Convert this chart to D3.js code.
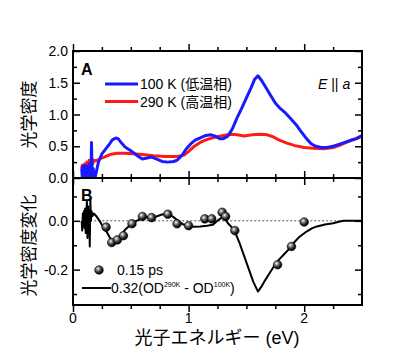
<!DOCTYPE html>
<html><head><meta charset="utf-8">
<script src="https://cdn.jsdelivr.net/npm/d3@7"></script>
<style>body{margin:0;background:#fff}svg{display:block}text{font-family:"Liberation Sans",Arial,sans-serif;fill:#000}</style>
</head><body>
<script>
// Top panel: optical density (energy eV, OD)
const blue100K = [[0.075,0.15],[0.08,0.02],[0.085,0.18],[0.09,0.05],[0.095,0.12],[0.10,0.01],[0.105,0.2],[0.11,0.06],[0.115,0.15],[0.12,0.03],[0.125,0.18],[0.13,0.08],[0.135,0.02],[0.14,0.22],[0.145,0.05],[0.15,0.12],[0.155,0.03],[0.16,0.56],[0.165,0.1],[0.17,0.02],[0.175,0.15],[0.18,0.05],[0.19,0.0],[0.2,0.08],[0.22,0.25],[0.25,0.38],[0.28,0.45],[0.31,0.52],[0.34,0.6],[0.37,0.63],[0.39,0.62],[0.42,0.55],[0.45,0.49],[0.5,0.43],[0.55,0.36],[0.6,0.3],[0.65,0.32],[0.68,0.33],[0.72,0.3],[0.77,0.26],[0.82,0.25],[0.87,0.26],[0.9,0.28],[0.94,0.35],[0.98,0.46],[1.02,0.54],[1.06,0.6],[1.1,0.63],[1.15,0.67],[1.19,0.68],[1.23,0.66],[1.27,0.62],[1.3,0.62],[1.34,0.66],[1.38,0.78],[1.42,0.95],[1.46,1.1],[1.5,1.26],[1.54,1.42],[1.57,1.55],[1.6,1.61],[1.63,1.54],[1.67,1.42],[1.71,1.3],[1.75,1.18],[1.79,1.1],[1.84,1.02],[1.88,0.94],[1.93,0.84],[1.97,0.74],[2.02,0.62],[2.06,0.54],[2.1,0.5],[2.15,0.48],[2.2,0.48],[2.25,0.5],[2.3,0.53],[2.35,0.56],[2.4,0.59],[2.45,0.62],[2.5,0.67]];
const red290K = [[0.075,0.15],[0.08,0.2],[0.09,0.12],[0.1,0.22],[0.11,0.14],[0.12,0.25],[0.13,0.16],[0.14,0.28],[0.15,0.18],[0.16,0.3],[0.17,0.22],[0.18,0.28],[0.2,0.27],[0.23,0.3],[0.27,0.33],[0.32,0.37],[0.38,0.39],[0.45,0.39],[0.52,0.38],[0.6,0.37],[0.7,0.35],[0.8,0.34],[0.9,0.34],[0.96,0.36],[1.0,0.42],[1.05,0.5],[1.1,0.56],[1.15,0.6],[1.2,0.63],[1.28,0.66],[1.36,0.69],[1.42,0.68],[1.48,0.66],[1.55,0.68],[1.62,0.69],[1.68,0.68],[1.73,0.65],[1.78,0.6],[1.85,0.55],[1.92,0.51],[2.0,0.48],[2.08,0.47],[2.17,0.46],[2.25,0.48],[2.3,0.51],[2.35,0.55],[2.4,0.59],[2.45,0.62],[2.5,0.66]];
// Bottom panel: change of optical density
const diffLine = [[0.075,0.0],[0.08,-0.04],[0.085,0.03],[0.09,-0.02],[0.095,0.04],[0.1,-0.03],[0.105,0.05],[0.11,-0.05],[0.115,0.02],[0.12,0.08],[0.125,-0.07],[0.13,0.06],[0.135,-0.02],[0.14,0.04],[0.145,-0.105],[0.15,0.09],[0.155,0.0],[0.16,0.04],[0.17,0.02],[0.18,0.03],[0.2,0.02],[0.23,0.0],[0.26,-0.025],[0.29,-0.044],[0.32,-0.07],[0.35,-0.085],[0.38,-0.08],[0.41,-0.065],[0.45,-0.037],[0.5,-0.015],[0.55,0.0],[0.61,0.014],[0.67,0.016],[0.72,0.018],[0.77,0.026],[0.81,0.029],[0.86,0.018],[0.9,0.004],[0.95,-0.014],[1.0,-0.022],[1.05,-0.024],[1.1,-0.023],[1.16,-0.02],[1.21,-0.016],[1.26,0.004],[1.3,0.018],[1.34,-0.01],[1.37,-0.025],[1.4,-0.044],[1.44,-0.09],[1.47,-0.13],[1.5,-0.17],[1.53,-0.21],[1.56,-0.25],[1.6,-0.29],[1.63,-0.27],[1.66,-0.245],[1.7,-0.215],[1.74,-0.185],[1.78,-0.16],[1.82,-0.14],[1.87,-0.115],[1.91,-0.09],[1.96,-0.065],[2.02,-0.044],[2.07,-0.03],[2.11,-0.023],[2.18,-0.015],[2.25,-0.01],[2.3,-0.004],[2.34,0.0],[2.5,0.0]];
const dots015ps = [[0.286,-0.026],[0.335,-0.089],[0.384,-0.078],[0.436,-0.061],[0.51,-0.012],[0.60,0.018],[0.68,0.013],[0.82,0.027],[0.90,-0.012],[1.0,-0.02],[1.14,0.008],[1.2,0.008],[1.29,0.035],[1.32,0.018],[1.40,-0.04],[1.77,-0.18],[1.89,-0.105],[2.0,-0.005]];
const topTicks = [0,0.5,1.0,1.5,2.0];
const topTickLabels = ["0.0","0.5","1.0","1.5","2.0"];
const botTicks = [-0.2,0.0];
const botTickLabels = ["-0.2","0.0"];
const xTicks = [0,1,2];
const xTickLabels = ["0","1","2"];
const legendTop = ["100 K (低温相)","290 K (高温相)"];

const W=400,H=358;
const L=73,R=362,T=51,MID=178,B=305;
const svg=d3.select("body").append("svg").attr("width",W).attr("height",H);
const x=d3.scaleLinear().domain([0,2.5]).range([L,R]);
const yT=d3.scaleLinear().domain([0,2.0]).range([MID,T]);
const yB=d3.scaleLinear().domain([-0.345,0.1755]).range([B,MID]);

const defs=svg.append("defs");
const g=defs.append("radialGradient").attr("id","ball").attr("cx","0.38").attr("cy","0.35").attr("r","0.65");
g.append("stop").attr("offset","0").attr("stop-color","#ffffff");
g.append("stop").attr("offset","0.3").attr("stop-color","#888");
g.append("stop").attr("offset","0.7").attr("stop-color","#222");
g.append("stop").attr("offset","1").attr("stop-color","#000");
defs.append("clipPath").attr("id","cT").append("rect").attr("x",L).attr("y",T).attr("width",R-L).attr("height",MID-T);
defs.append("clipPath").attr("id","cB").append("rect").attr("x",L).attr("y",MID).attr("width",R-L).attr("height",B-MID);

const CJK='"Liberation Sans","Noto Sans CJK JP",sans-serif';

function xAxisAt(y, dir){
  const ga=svg.append("g").attr("transform",`translate(0,${y})`);
  ga.append("g").call(d3.axisBottom(x).tickValues([0,1,2]).tickSize(-7*dir).tickFormat(""));
  ga.append("g").call(d3.axisBottom(x).tickValues([0.25,0.5,0.75,1.25,1.5,1.75,2.25]).tickSize(-4*dir).tickFormat(""));
  ga.selectAll(".domain").remove();
  ga.selectAll("line").attr("stroke","#000").attr("stroke-width",1.5);
}
function yAxisAt(scale, xpos, majV, minV, side){
  const ga=svg.append("g").attr("transform",`translate(${xpos},0)`);
  ga.append("g").call(d3.axisLeft(scale).tickValues(majV).tickSize(-7*side).tickFormat(""));
  ga.append("g").call(d3.axisLeft(scale).tickValues(minV).tickSize(-4*side).tickFormat(""));
  ga.selectAll(".domain").remove();
  ga.selectAll("line").attr("stroke","#000").attr("stroke-width",1.5);
}
xAxisAt(T,1);
xAxisAt(MID,-1); xAxisAt(MID,1);
xAxisAt(B,-1);
yAxisAt(yT,L,topTicks,[0.25,0.75,1.25,1.75],1);
yAxisAt(yT,R,topTicks,[0.25,0.75,1.25,1.75],-1);
yAxisAt(yB,L,botTicks,[-0.3,-0.1,0.1],1);
yAxisAt(yB,R,botTicks,[-0.3,-0.1,0.1],-1);

// tick labels
svg.append("g").selectAll("text").data(topTicks).join("text")
  .attr("x",L-5).attr("y",d=>yT(d)).attr("dy","0.36em").attr("text-anchor","end")
  .style("font-size","14px").text((d,i)=>topTickLabels[i]);
svg.append("g").selectAll("text").data(botTicks).join("text")
  .attr("x",L-5).attr("y",d=>yB(d)).attr("dy","0.36em").attr("text-anchor","end")
  .style("font-size","14px").text((d,i)=>botTickLabels[i]);
svg.append("g").selectAll("text").data(xTicks).join("text")
  .attr("x",d=>x(d)).attr("y",B+18).attr("text-anchor","middle")
  .style("font-size","14px").text((d,i)=>xTickLabels[i]);

// curves
const line=(ys)=>d3.line().x(d=>x(d[0])).y(d=>ys(d[1]));
svg.append("path").datum(red290K).attr("clip-path","url(#cT)").attr("d",line(yT))
  .attr("fill","none").attr("stroke","#ff1a1a").attr("stroke-width",3).attr("stroke-linejoin","round");
svg.append("path").datum(blue100K).attr("clip-path","url(#cT)").attr("d",line(yT))
  .attr("fill","none").attr("stroke","#1a1aff").attr("stroke-width",3).attr("stroke-linejoin","round");

svg.append("line").attr("x1",x(0.08)).attr("x2",R).attr("y1",yB(0)).attr("y2",yB(0))
  .attr("stroke","#555").attr("stroke-width",1).attr("stroke-dasharray","2,2");
svg.append("path").datum(diffLine).attr("clip-path","url(#cB)").attr("d",line(yB))
  .attr("fill","none").attr("stroke","#000").attr("stroke-width",2).attr("stroke-linejoin","round");
svg.append("g").selectAll("circle").data(dots015ps).join("circle")
  .attr("cx",d=>x(d[0])).attr("cy",d=>yB(d[1])).attr("r",4.3)
  .attr("fill","url(#ball)").attr("stroke","#000").attr("stroke-width",0.6);

// frames
svg.append("rect").attr("x",L).attr("y",T).attr("width",R-L).attr("height",B-T)
  .attr("fill","none").attr("stroke","#000").attr("stroke-width",2);
svg.append("line").attr("x1",L).attr("x2",R).attr("y1",MID).attr("y2",MID).attr("stroke","#000").attr("stroke-width",2);

// panel letters
svg.append("text").attr("x",81).attr("y",75).style("font-size","16px").style("font-weight","bold").text("A");
svg.append("text").attr("x",81).attr("y",201).style("font-size","16px").style("font-weight","bold").text("B");

// top legend
const legColors=["#1a1aff","#ff1a1a"];
legendTop.forEach((t,i)=>{
  const yy=84+i*17.5;
  svg.append("line").attr("x1",105).attr("x2",138).attr("y1",yy).attr("y2",yy).attr("stroke",legColors[i]).attr("stroke-width",3);
  svg.append("text").attr("x",140).attr("y",yy).attr("dy","0.36em").style("font-size","14px").style("font-family",CJK).text(t);
});
const ea=svg.append("text").attr("x",318).attr("y",84).attr("dy","0.36em").style("font-size","14px");
ea.append("tspan").style("font-style","italic").text("E");
ea.append("tspan").text(" || ");
ea.append("tspan").style("font-style","italic").text("a");

// bottom legend
svg.append("circle").attr("cx",99).attr("cy",270).attr("r",4.3).attr("fill","url(#ball)").attr("stroke","#000").attr("stroke-width",0.6);
svg.append("text").attr("x",117).attr("y",270).attr("dy","0.36em").style("font-size","14px").text("0.15 ps");
svg.append("line").attr("x1",82).attr("x2",111).attr("y1",288).attr("y2",288).attr("stroke","#000").attr("stroke-width",2);
const lt=svg.append("text").attr("x",111).attr("y",293).style("font-size","14px");
lt.append("tspan").text("0.32(OD");
lt.append("tspan").attr("dy",-6).style("font-size","7px").text("290K");
lt.append("tspan").attr("dy",6).text(" - OD");
lt.append("tspan").attr("dy",-6).style("font-size","7px").text("100K");
lt.append("tspan").attr("dy",6).text(")");

// axis titles
svg.append("text").attr("transform",`translate(35,${(T+MID)/2}) rotate(-90)`).attr("text-anchor","middle")
  .style("font-size","17px").style("font-family",CJK).text("光学密度");
svg.append("text").attr("transform",`translate(35,${(MID+B)/2+4}) rotate(-90)`).attr("text-anchor","middle")
  .style("font-size","17px").style("font-family",CJK).text("光学密度変化");
svg.append("text").attr("x",217).attr("y",344).attr("text-anchor","middle")
  .style("font-size","18px").style("font-family",CJK).text("光子エネルギー (eV)");
</script>
</body></html>
